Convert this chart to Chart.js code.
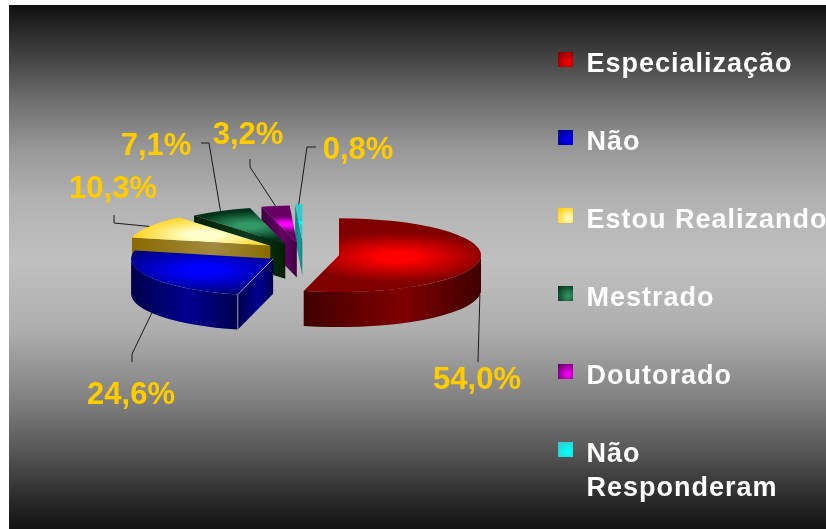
<!DOCTYPE html>
<html>
<head>
<meta charset="utf-8">
<style>
  html, body { margin: 0; padding: 0; background: #fff; }
  #wrap { width: 826px; height: 529px; }
</style>
</head>
<body>
<div id="wrap"><canvas id="myChart" width="826" height="529"></canvas></div>
<script src="https://cdn.jsdelivr.net/npm/chart.js@4"></script>
<script>
const categories = ["Especialização", "Não", "Estou Realizando", "Mestrado", "Doutorado", ["Não", "Responderam"]];
const values = [54.0, 24.6, 10.3, 7.1, 3.2, 0.8];

// how far each slice is pulled out, the back ones a bit more for the perspective
const explode = [35.7, 35.7, 39, 40, 45, 50];
const lift = [0, 0, 3, 1, 0, 0];

const topBright = ["#ff0000", "#0000ff", "#ffffcc", "#339966", "#ff00ff", "#00ffff"];
const topEdge = ["#800000", "#000080", "#ffcc00", "#003319", "#660066", "#33cccc"];
const glowRadius = [96, 90, 80, 56, 30, 10];
const glowAt = [0.41, 0.58, 0.55, 0.55, 0.5, 0.5];
const wallDark = ["#400000", "#00004c", "#8a6a00", "#002000", "#400040", "#108080"];
const wallMid = ["#800000", "#000090", "#a08a40", "#0a3a20", "#660066", "#1a9a9a"];

const pieX = 303.6, pieY = 254, pieRadius = 142, tilt = 0.26, depth = 35;

// elbow points of the leader lines, slice edge is worked out from the arc
const leaders = [
  [[478, 362]],
  [[132, 354], [132, 362]],
  [[114, 223], [114, 215]],
  [[209, 143], [201, 143]],
  [[250, 167], [250, 159]],
  [[307, 147], [316, 147]],
];
const labelSpots = [[477, 380], [131, 395], [113, 189], [156, 146], [248, 135], [358, 150]];

const legendX = 558, legendBoxTop = 52, legendStep = 78;
const legendPadding = 51;

// background bands: y on the page, grey level
const panelY = [5, 50, 100, 150, 200, 260, 330, 400, 450, 500, 529];
const panelGrey = [16, 60, 110, 152, 178, 192, 174, 128, 88, 42, 18];

function midAngle(el) {
  return (el.startAngle + el.endAngle) / 2;
}

function sliceOrigin(el, i) {
  const mid = midAngle(el);
  return {
    x: pieX + Math.cos(mid) * explode[i],
    y: pieY + Math.sin(mid) * explode[i] * tilt - lift[i],
  };
}

function sliceFill(context) {
  const chart = context.chart;
  const i = context.dataIndex;
  if (!chart.chartArea) return topEdge[i];
  const total = values.reduce((a, b) => a + b, 0);
  const before = values.slice(0, i).reduce((a, b) => a + b, 0);
  const mid = ((before + values[i] / 2) / total) * Math.PI * 2 - Math.PI / 2;
  const cx = (chart.chartArea.left + chart.chartArea.right) / 2;
  const cy = (chart.chartArea.top + chart.chartArea.bottom) / 2;
  const gx = cx + Math.cos(mid) * pieRadius * glowAt[i];
  const gy = cy + Math.sin(mid) * pieRadius * glowAt[i];
  const g = chart.ctx.createRadialGradient(gx, gy, 0, gx, gy, glowRadius[i]);
  g.addColorStop(0, topBright[i]);
  g.addColorStop(0.2, topBright[i]);
  g.addColorStop(1, topEdge[i]);
  return g;
}

function drawWall(ctx, el, i) {
  const o = sliceOrigin(el, i);
  const lo = Math.max(el.startAngle, 0);
  const hi = Math.min(el.endAngle, Math.PI);
  if (hi <= lo) return;
  const xa = o.x + pieRadius * Math.cos(hi);
  const xb = o.x + pieRadius * Math.cos(lo);
  const g = ctx.createLinearGradient(xa, 0, xb, 0);
  g.addColorStop(0, wallDark[i]);
  g.addColorStop(0.55, wallMid[i]);
  g.addColorStop(1, wallDark[i]);
  ctx.fillStyle = g;
  ctx.beginPath();
  ctx.ellipse(o.x, o.y, pieRadius, pieRadius * tilt, 0, lo, hi);
  ctx.ellipse(o.x, o.y + depth, pieRadius, pieRadius * tilt, 0, hi, lo, true);
  ctx.closePath();
  ctx.fill();
}

function drawCut(ctx, el, i, angle) {
  const o = sliceOrigin(el, i);
  const ex = o.x + pieRadius * Math.cos(angle);
  const ey = o.y + pieRadius * tilt * Math.sin(angle);
  const g = ctx.createLinearGradient(ex, 0, o.x, 0);
  g.addColorStop(0, wallDark[i]);
  g.addColorStop(0.6, wallMid[i]);
  g.addColorStop(1, wallDark[i]);
  ctx.fillStyle = g;
  ctx.beginPath();
  ctx.moveTo(o.x, o.y);
  ctx.lineTo(ex, ey);
  ctx.lineTo(ex, ey + depth);
  ctx.lineTo(o.x, o.y + depth);
  ctx.closePath();
  ctx.fill();
}

function drawWallsFor(ctx, el, i) {
  if (Math.cos(el.startAngle) < 0) drawCut(ctx, el, i, el.startAngle);
  if (Math.cos(el.endAngle) > 0) drawCut(ctx, el, i, el.endAngle);
  drawWall(ctx, el, i);
}

const panelPlugin = {
  id: "panel",
  beforeDraw(chart) {
    const ctx = chart.ctx;
    const g = ctx.createLinearGradient(0, 5, 0, 529);
    panelY.forEach((y, i) => {
      const v = panelGrey[i];
      g.addColorStop((y - 5) / 524, `rgb(${v},${v},${v})`);
    });
    ctx.save();
    ctx.fillStyle = "#ffffff";
    ctx.fillRect(0, 0, 826, 529);
    ctx.fillStyle = g;
    ctx.fillRect(9, 5, 817, 524);
    ctx.restore();
    ctx.letterSpacing = "1px";
  },
  afterLayout(chart) {
    chart.legend.left = legendX - legendPadding;
  },
};

const pie3dPlugin = {
  id: "pie3d",
  beforeDatasetsDraw(chart) {
    const ctx = chart.ctx;
    const arcs = chart.getDatasetMeta(0).data;
    ctx.letterSpacing = "0px";
    // walls back to front, top faces go over them
    for (let i = arcs.length - 1; i >= 0; i--) {
      drawWallsFor(ctx, arcs[i], i);
    }
    arcs.forEach((el, i) => {
      const o = sliceOrigin(el, i);
      ctx.save();
      ctx.translate(o.x, o.y);
      ctx.scale(1, tilt);
      ctx.translate(-el.x, -el.y);
      el.draw(ctx);
      ctx.restore();
    });
    // thin light edges on the blue slice
    const blue = arcs[1];
    const bo = sliceOrigin(blue, 1);
    const bx = bo.x + pieRadius * Math.cos(blue.startAngle);
    const by = bo.y + pieRadius * tilt * Math.sin(blue.startAngle);
    ctx.save();
    ctx.strokeStyle = "rgba(200,200,230,0.7)";
    ctx.lineWidth = 1;
    ctx.beginPath();
    ctx.moveTo(bo.x, bo.y);
    ctx.lineTo(bx, by);
    ctx.lineTo(bx, by + depth);
    ctx.stroke();
    ctx.restore();
    drawLabels(chart, arcs);
    drawLegendBoxes(chart);
    return false;
  },
};

function drawLabels(chart, arcs) {
  const ctx = chart.ctx;
  ctx.save();
  ctx.strokeStyle = "#1a1a1a";
  ctx.lineWidth = 1;
  arcs.forEach((el, i) => {
    const o = sliceOrigin(el, i);
    const mid = midAngle(el);
    let sy = o.y + pieRadius * tilt * Math.sin(mid);
    if (Math.sin(mid) > 0) sy += depth;
    ctx.beginPath();
    ctx.moveTo(o.x + pieRadius * Math.cos(mid), sy);
    leaders[i].forEach((p) => ctx.lineTo(p[0], p[1]));
    ctx.stroke();
  });
  ctx.fillStyle = "#ffcc00";
  ctx.font = "bold 31px 'Liberation Sans'";
  ctx.textAlign = "center";
  ctx.textBaseline = "middle";
  values.forEach((v, i) => {
    const txt = v.toFixed(1).replace(".", ",") + "%";
    ctx.fillText(txt, labelSpots[i][0], labelSpots[i][1]);
  });
  ctx.restore();
}

// the swatch sits higher against its text than the legend would put it
function drawLegendBoxes(chart) {
  const ctx = chart.ctx;
  values.forEach((v, i) => {
    const y = legendBoxTop + legendStep * i;
    const g = ctx.createRadialGradient(legendX + 10, y + 10, 0, legendX + 10, y + 10, 13);
    g.addColorStop(0, topBright[i]);
    g.addColorStop(1, topEdge[i]);
    ctx.fillStyle = g;
    ctx.fillRect(legendX, y, 15, 15);
  });
}

new Chart(document.getElementById("myChart"), {
  type: "pie",
  data: {
    labels: categories,
    datasets: [
      {
        data: values,
        backgroundColor: sliceFill,
        borderWidth: 0,
        radius: pieRadius,
      },
    ],
  },
  plugins: [panelPlugin, pie3dPlugin],
  options: {
    responsive: false,
    animation: false,
    layout: { padding: { top: 0, bottom: -60 } },
    plugins: {
      tooltip: { enabled: false },
      legend: {
        position: "right",
        align: "start",
        labels: {
          boxWidth: 15,
          boxHeight: 15,
          padding: legendPadding,
          color: "#ffffff",
          font: { family: "'Liberation Sans'", size: 27, weight: "bold", lineHeight: 1.27 },
          generateLabels() {
            return categories.map((text, i) => ({
              text: text,
              fillStyle: "transparent",
              strokeStyle: "transparent",
              lineWidth: 0,
              fontColor: "#ffffff",
              hidden: false,
              index: i,
            }));
          },
        },
      },
    },
  },
});
</script>
</body>
</html>
